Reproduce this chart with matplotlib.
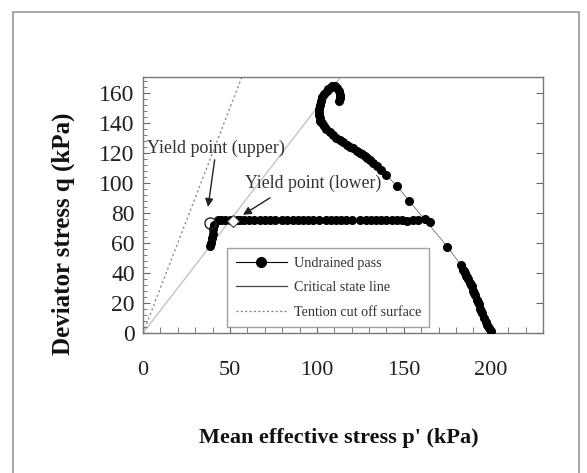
import matplotlib
matplotlib.use("Agg")
import matplotlib.pyplot as plt
from matplotlib.patches import Rectangle
from matplotlib.ticker import MultipleLocator
from matplotlib.lines import Line2D
import numpy as np

plt.rcParams['font.family'] = ['Liberation Serif', 'DejaVu Serif']

# Undrained path 1 (from p'=200 up to the hook)
path1_p = [200, 199, 198, 197, 196, 195, 194.5, 194, 193, 192.5, 192, 191, 190.5, 190, 189,
           188.5, 188, 187, 186.5, 186, 185, 184.5, 184, 183,
           175, 153, 146, 139.7, 137, 134.5, 132.5, 130.5, 129, 127.5, 126, 124.7, 123, 121,
           119, 117.2, 115, 113, 111, 109.2, 107.5, 105.5, 104, 102.9, 102, 101.5, 101.1,
           101.1, 101.3, 101.7, 102.3, 103, 104.2, 105.7, 106.6, 107.5, 108.4, 109.2, 110.3,
           111.5, 112.5, 113.2, 113.3, 113, 112.6]
path1_q = [1, 3, 5, 7, 10, 13, 14.5, 16, 19, 20.5, 22, 25, 26.5, 28, 31,
           32, 33, 36, 37, 38, 40, 41, 42, 45,
           57.5, 88, 98, 105.3, 108.5, 111.3, 113.3, 115.3, 116.7, 118, 119, 120, 121.5, 123,
           124, 125.3, 127, 128.5, 130, 132, 134, 136, 138, 140, 141.5, 143, 145.3,
           147, 149, 152, 154.5, 157, 159.3, 161.3, 162.5, 163.5, 164.2, 164.7, 164.3,
           163, 161, 158.7, 157.5, 156.5, 154.7]

# Undrained path 2 (constant q, p' decreasing, then collapse)
path2_p = [165, 162, 158, 155, 152, 149, 146, 143, 140, 137, 134, 131, 128, 125, 120, 117, 114,
           111, 108, 105, 101, 98, 95, 92, 89, 86, 83, 80, 76, 73, 70, 67, 64, 61, 58, 56, 54,
           50, 47, 45, 43, 41, 40.5, 40, 39.5, 39, 38.5]
path2_q = [74, 76, 75, 75, 74.5, 75, 75, 75, 75, 75, 75, 75, 75, 75, 75, 75, 75,
           75, 75, 75, 75, 75, 75, 75, 75, 75, 75, 75, 75, 75, 75, 75, 75, 75, 75, 75, 75,
           75, 75, 75, 75, 72, 69, 66, 63, 60, 58]

# Critical state line (q = M p') and tension cut-off surface (q = 3 p')
csl_p = [0, 115]
csl_q = [0, 172.5]
tco_p = [0, 57]
tco_q = [0, 171]

upper_yield = (38.5, 73.5)
lower_yield = (51.7, 74.5)

fig = plt.figure(figsize=(5.87, 4.73), dpi=100)
fig.patches.append(Rectangle((13/587, -0.02), (579-13)/587, 1 - 12/473 + 0.02,
                             transform=fig.transFigure, fill=False,
                             edgecolor='#9a9a9a', linewidth=1.2))

ax = fig.add_axes([143/587, 140/473, 400/587, 256/473])

ax.plot(tco_p, tco_q, linestyle=(0, (1.5, 2)), color='#888888', linewidth=1.0, zorder=1)
ax.plot(csl_p, csl_q, linestyle='-', color='#c4c4c4', linewidth=1.0, zorder=1)
ax.plot(path1_p, path1_q, '-o', color='#555555', linewidth=0.5, markersize=5.5,
        markerfacecolor='black', markeredgecolor='black', zorder=3)
ax.plot(path2_p, path2_q, '-o', color='#555555', linewidth=0.5, markersize=5.5,
        markerfacecolor='black', markeredgecolor='black', zorder=3)

ax.plot([upper_yield[0]], [upper_yield[1]], 'o', markersize=8, markerfacecolor='none',
        markeredgecolor='#222222', markeredgewidth=1.0, zorder=4)
ax.plot([lower_yield[0]], [lower_yield[1]], 'D', markersize=6, markerfacecolor='white',
        markeredgecolor='#444444', markeredgewidth=0.8, zorder=4)

ax.annotate('Yield point (upper)', xy=(37.4, 84), xytext=(2.5, 123),
            fontsize=13, color='#333333', va='center', ha='left',
            arrowprops=dict(arrowstyle='-|>', color='#222222', lw=1.0,
                            shrinkA=0, shrinkB=0, mutation_scale=12),
            zorder=5)
ax.text(58.5, 100, 'Yield point (lower)', fontsize=12.8, color='#333333',
        va='center', ha='left', zorder=5)
ax.annotate('', xy=(57.5, 78.7), xytext=(73, 90),
            arrowprops=dict(arrowstyle='-|>', color='#222222', lw=1.0,
                            shrinkA=0, shrinkB=0, mutation_scale=12))

handles = [Line2D([], [], color='black', marker='o', markersize=7, linewidth=0.8),
           Line2D([], [], color='#444444', linewidth=0.9),
           Line2D([], [], color='#777777', linewidth=0.9, linestyle=(0, (1.5, 2)))]
labels = ['Undrained pass', 'Critical state line', 'Tention cut off surface']
leg = ax.legend(handles, labels, loc='lower left', bbox_to_anchor=(0.21, 0.023),
                borderaxespad=0, fontsize=10.2, frameon=True, fancybox=False,
                edgecolor='#888888', handlelength=3.6, labelspacing=0.8,
                borderpad=0.6, handletextpad=0.5)
leg.get_frame().set_linewidth(1.0)
for t in leg.get_texts():
    t.set_color('#333333')

ax.set_xlim(0, 230)
ax.set_ylim(0, 170.5)
ax.set_xticks([0, 50, 100, 150, 200])
ax.set_yticks(np.arange(0, 161, 20))
ax.xaxis.set_minor_locator(MultipleLocator(10))
ax.yaxis.set_minor_locator(MultipleLocator(4))
ax.tick_params(axis='x', which='major', direction='in', length=5, pad=20, labelsize=16,
               top=False, colors='#666666', labelcolor='#222222')
ax.tick_params(axis='x', which='minor', direction='in', length=4, top=False, colors='#666666')
ax.tick_params(axis='y', which='major', direction='in', length=5, pad=6, labelsize=17,
               right=True, colors='#666666', labelcolor='#222222')
ax.tick_params(axis='y', which='minor', direction='in', length=3, right=False, colors='#666666')
for s in ax.spines.values():
    s.set_color('#777777')
    s.set_linewidth(1.0)

fig.text(63/587, 1 - 234/473, 'Deviator stress q (kPa)', rotation=90, fontsize=18,
         fontweight='bold', ha='center', va='center', color='#111111')
fig.text(339/587, 1 - 438/473, "Mean effective stress p' (kPa)", fontsize=16,
         fontweight='bold', ha='center', va='center', color='#111111')

fig.savefig('out.png', dpi=100)
